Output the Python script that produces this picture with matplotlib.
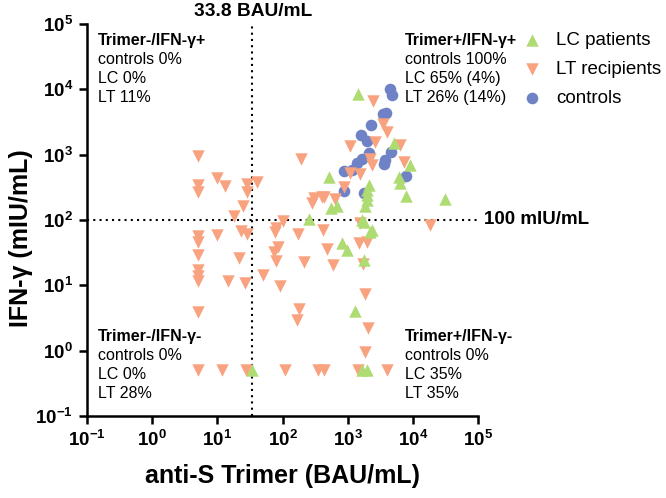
import matplotlib
matplotlib.use("Agg")
import matplotlib.pyplot as plt

plt.rcParams["font.family"] = ["Liberation Sans", "DejaVu Sans"]
plt.rcParams["mathtext.fontset"] = "custom"
plt.rcParams["mathtext.rm"] = "Liberation Sans"
plt.rcParams["mathtext.bf"] = "Liberation Sans:bold"

# anti-S Trimer (BAU/mL) vs IFN-gamma (mIU/mL)
lc_x = [1428, 5080, 8930, 526, 6060, 6440, 2104, 2000, 1990, 1950, 1875, 7940,
        31480, 555, 690, 254, 1667, 1766, 2234, 2371, 824, 982, 1766, 1316,
        34.5, 1667, 1986]
lc_y = [8470, 1489, 693, 449, 449, 371, 342, 287, 240, 205, 165, 235,
        207, 151, 165, 103, 99.5, 94, 65.9, 70, 43.8, 34.6, 24.3, 4.0,
        0.5, 0.5, 0.5]

lt_x = [5, 5, 5, 5, 5, 5, 5, 5, 5, 5, 5,
        9.8, 13, 28.9, 40, 28.9, 25.1, 18.3, 10, 23.4, 28.9, 21.5, 14.6, 26.9,
        50.8, 91.3, 80.4, 101, 77.6, 175, 85, 73.8, 79, 216, 416, 479, 592,
        191, 300, 285, 400, 431, 634, 178, 169, 1828, 2032, 1828, 18080, 893,
        1076, 1531, 1076, 2455, 3447, 4024, 2666, 6280, 2234, 2371, 7410,
        1479, 1986, 1570, 1700,
        12, 27.2, 111, 346, 431, 1428, 4024]
lt_y = [952, 342, 270, 57, 46, 29, 17, 13.8, 11.6, 3.9, 0.5,
        440, 330, 351, 385, 270, 163, 116, 58.7, 67.6, 60.8, 25.8, 11.6, 10.9,
        14.3, 9.6, 74.3, 96, 65.9, 60.1, 38.9, 32.6, 23.5, 22.9, 70, 36, 20.4,
        848, 215, 185, 226, 226, 207, 4.3, 2.9, 7.3, 2.2, 0.94, 83.5, 322,
        517, 505, 1355, 6690, 2910, 2240, 1577, 1403, 848, 693, 778,
        43.8, 46.3, 90, 21,
        0.5, 0.5, 0.5, 0.5, 0.5, 0.5, 0.5]

ctrl_x = [4520, 4800, 3491, 3926, 2291, 1610, 1986, 4630, 2104, 1667, 1397,
          3793, 3570, 893, 1172, 7940, 871, 1766]
ctrl_y = [10000, 8180, 4140, 4290, 2840, 1995, 1615, 1107, 1047, 848, 736,
          826, 718, 561, 581, 470, 280, 261]

trimer_cut = 33.8
ifn_cut = 100

decades = [0.1, 1, 10, 100, 1000, 10000, 100000]
tick_labels = [r"$\mathbf{10^{-1}}$", r"$\mathbf{10^{0}}$", r"$\mathbf{10^{1}}$",
               r"$\mathbf{10^{2}}$", r"$\mathbf{10^{3}}$", r"$\mathbf{10^{4}}$",
               r"$\mathbf{10^{5}}$"]

quadrants = [
    ("Trimer-/IFN-γ+", ["controls 0%", "LC 0%", "LT 11%"], 98, 40),
    ("Trimer+/IFN-γ+", ["controls 100%", "LC 65% (4%)", "LT 26% (14%)"], 405, 40),
    ("Trimer-/IFN-γ-", ["controls 0%", "LC 0%", "LT 28%"], 98, 336),
    ("Trimer+/IFN-γ-", ["controls 0%", "LC 35%", "LT 35%"], 405, 336),
]

GREEN = "#AEDB72"
ORANGE = "#F9A27F"
BLUE = "#6F82C6"

W, H = 666, 498
fig = plt.figure(figsize=(W / 100, H / 100), dpi=100)
ax = fig.add_axes([87 / W, (H - 416) / H, (478 - 87) / W, (416 - 24) / H])

ax.axvline(trimer_cut, color="black", lw=1.5, ls=(0, (1, 2)), zorder=1)
ax.axhline(ifn_cut, color="black", lw=1.5, ls=(0, (1, 2)), zorder=1)

ax.scatter(ctrl_x, ctrl_y, marker="o", s=70, color=BLUE, lw=0, zorder=2,
           label="controls")
ax.scatter(lt_x, lt_y, marker="v", s=80, color=ORANGE, lw=0, zorder=3,
           label="LT recipients")
ax.scatter(lc_x, lc_y, marker="^", s=80, color=GREEN, lw=0, zorder=4,
           label="LC patients")

ax.set_xscale("log")
ax.set_yscale("log")
ax.set_xlim(0.1, 1e5)
ax.set_ylim(0.1, 1e5)
ax.set_xticks(decades)
ax.set_xticklabels(tick_labels)
ax.set_yticks(decades)
ax.set_yticklabels(tick_labels)
ax.minorticks_off()
ax.tick_params(direction="out", length=6, width=1.8, labelsize=13.5, pad=4)

for side in ("top", "right"):
    ax.spines[side].set_visible(False)
for side in ("left", "bottom"):
    ax.spines[side].set_linewidth(1.8)

ax.set_xlabel("anti-S Trimer (BAU/mL)", fontsize=18, fontweight="bold", labelpad=10)
ax.set_ylabel("IFN-γ (mIU/mL)", fontsize=18, fontweight="bold")
ax.yaxis.set_label_coords((33 - 87) / 391, (416 - 238) / 392)

# threshold labels
fig.text(253 / W, 1 - 12 / H, "33.8 BAU/mL", ha="center", va="center",
         fontsize=13.8, fontweight="bold")
fig.text(484 / W, 1 - 220 / H, "100 mIU/mL", ha="left", va="center",
         fontsize=13.5, fontweight="bold")

# quadrant summaries
for title, lines, px, py in quadrants:
    fig.text(px / W, 1 - py / H, title, ha="left", va="center",
             fontsize=11.5, fontweight="bold")
    for i, line in enumerate(lines):
        fig.text(px / W, 1 - (py + 19.3 * (i + 1)) / H, line, ha="left",
                 va="center", fontsize=11.5)

handles, labels = ax.get_legend_handles_labels()
order = [2, 1, 0]
ax.legend([handles[i] for i in order], [labels[i] for i in order],
          loc="upper left", bbox_to_anchor=(523 / W, 1 - 32 / H),
          bbox_transform=fig.transFigure, frameon=False, fontsize=13.5,
          handlelength=1.0, handletextpad=0.75, labelspacing=0.64,
          borderpad=0, borderaxespad=0)

fig.savefig("out.png", dpi=100)
